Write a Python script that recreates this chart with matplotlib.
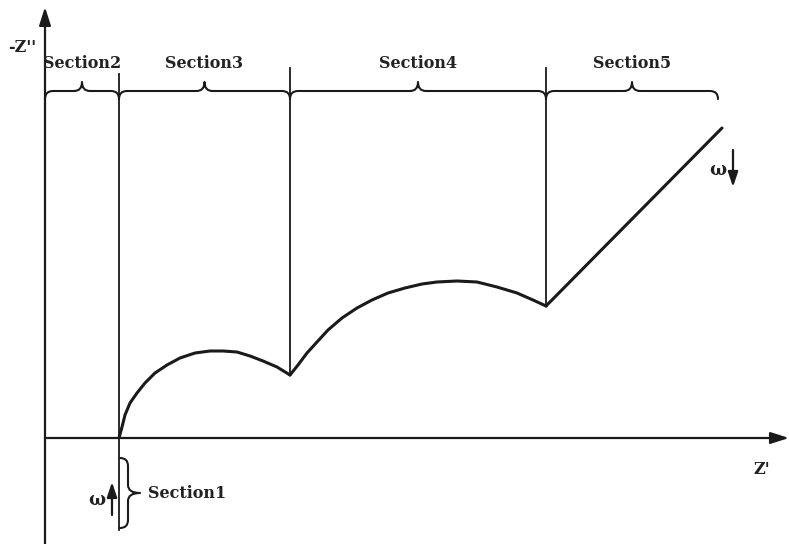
import matplotlib
matplotlib.use("Agg")
import matplotlib.pyplot as plt
from matplotlib.path import Path
from matplotlib.patches import PathPatch
import numpy as np

# ---- data (Z' origin at axis crossing, units) ----
arc1_x = [74, 77, 80, 85, 92, 100, 110, 122, 135, 150, 165, 178, 192, 205, 218, 232, 245]
arc1_y = [0, 11, 23, 35, 45, 55, 65, 73, 80, 85, 87, 87, 86, 82, 77, 71, 63]
arc2_x = [245, 253, 262, 272, 283, 297, 312, 327, 343, 360, 377, 392, 412, 432, 452, 472, 488, 501]
arc2_y = [63, 73, 85, 96, 108, 120, 130, 138, 145, 150, 154, 156, 157, 156, 151, 145, 138, 132]
tail_x = [501, 677]
tail_y = [132, 310]
section_bounds = [0, 74, 245, 501, 673]
section_labels = ["Section2", "Section3", "Section4", "Section5"]
divider_x = [74, 245, 501]
divider_top = [364, 370, 370]
divider_bottom = [-92, 63, 132]
section1_label = "Section1"
x_label = "Z'"
y_label = "-Z''"

INK = "#1a1a1a"
FONT = dict(family="DejaVu Serif", fontweight="bold", color="#222222")

fig = plt.figure(figsize=(7.89, 5.44), dpi=100)
ax = fig.add_axes([0, 0, 1, 1])
ax.set_xlim(-45, 744)
ax.set_ylim(-106, 438)
ax.axis("off")

# axes with arrows
ax.annotate("", xy=(0, 431), xytext=(0, -106),
            arrowprops=dict(arrowstyle="-|>,head_length=1.1,head_width=0.35",
                            lw=1.6, color=INK, shrinkA=0, shrinkB=0))
ax.annotate("", xy=(744, 0), xytext=(0, 0),
            arrowprops=dict(arrowstyle="-|>,head_length=1.1,head_width=0.35",
                            lw=1.6, color=INK, shrinkA=0, shrinkB=0))

# curve
ax.plot(arc1_x, arc1_y, color=INK, lw=2.2, solid_joinstyle="round", solid_capstyle="round")
ax.plot(arc2_x, arc2_y, color=INK, lw=2.2, solid_joinstyle="round", solid_capstyle="round")
ax.plot(tail_x, tail_y, color=INK, lw=2.2, solid_capstyle="round")

# dividers
for x, t, b in zip(divider_x, divider_top, divider_bottom):
    ax.plot([x, x], [b, t], color=INK, lw=1.3)


def brace(p0, p1, d_end, d_tip, r=8):
    p0 = np.array(p0, float)
    p1 = np.array(p1, float)
    t = (p1 - p0) / np.linalg.norm(p1 - p0)
    n = np.array([-t[1], t[0]])
    L = np.linalg.norm(p1 - p0)
    m = L / 2
    def P(s, h):
        return tuple(p0 + t * s + n * h)
    verts = [P(0, 0), P(0, d_end), P(r, d_end),
             P(m - r, d_end), P(m, d_end), P(m, d_end + d_tip),
             P(m, d_end), P(m + r, d_end),
             P(L - r, d_end), P(L, d_end), P(L, 0)]
    codes = [Path.MOVETO, Path.CURVE3, Path.CURVE3,
             Path.LINETO, Path.CURVE3, Path.CURVE3,
             Path.CURVE3, Path.CURVE3,
             Path.LINETO, Path.CURVE3, Path.CURVE3]
    ax.add_patch(PathPatch(Path(verts, codes), fill=False, lw=1.5,
                           edgecolor=INK, capstyle="round", joinstyle="round"))

for i, lab in enumerate(section_labels):
    x0, x1 = section_bounds[i], section_bounds[i + 1]
    brace((x0, 339), (x1, 339), 8, 9)
    ax.text((x0 + x1) / 2, 374, lab, ha="center", va="center", fontsize=11.5, **FONT)

# Section1 brace (vertical, pointing right)
brace((75, -20), (75, -90), 8, 12)
ax.text(103, -56, section1_label, ha="left", va="center", fontsize=11.5, **FONT)

# omega arrows
ax.text(52, -62, "ω", ha="center", va="center", fontsize=13, **FONT)
ax.annotate("", xy=(67, -44), xytext=(67, -77),
            arrowprops=dict(arrowstyle="-|>,head_length=0.9,head_width=0.3",
                            lw=1.6, color=INK, shrinkA=0, shrinkB=0))
ax.text(673, 268, "ω", ha="center", va="center", fontsize=13, **FONT)
ax.annotate("", xy=(688, 251), xytext=(688, 288),
            arrowprops=dict(arrowstyle="-|>,head_length=0.9,head_width=0.3",
                            lw=1.6, color=INK, shrinkA=0, shrinkB=0))

# axis labels
ax.text(-23, 391, y_label, ha="center", va="center", fontsize=11.5, **FONT)
ax.text(717, -32, x_label, ha="center", va="center", fontsize=11.5, **FONT)

fig.savefig("out.png", dpi=100)
